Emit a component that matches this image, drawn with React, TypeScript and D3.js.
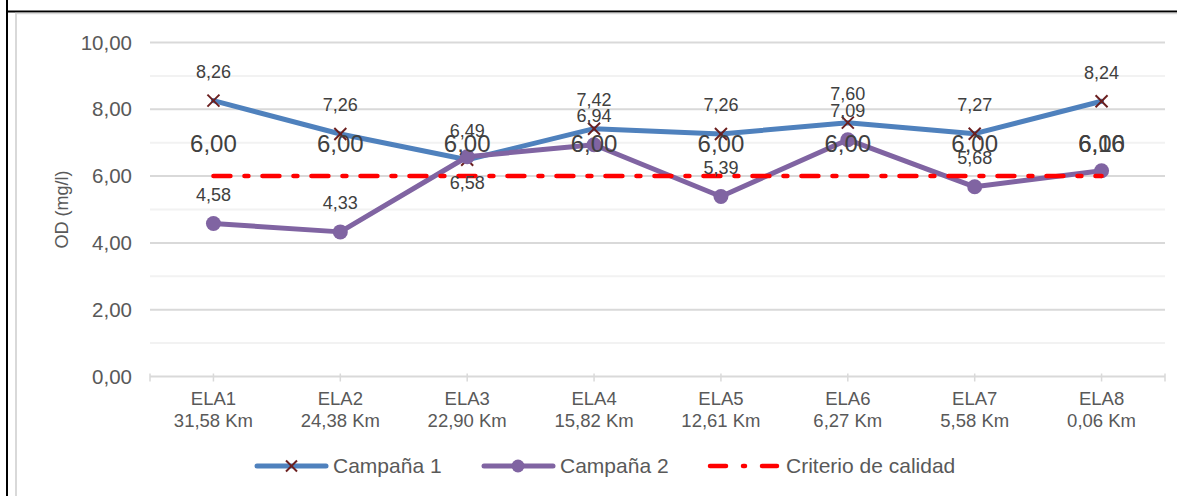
import React from "react";
import * as d3 from "d3";

const categories = ["ELA1", "ELA2", "ELA3", "ELA4", "ELA5", "ELA6", "ELA7", "ELA8"];
const distances = ["31,58 Km", "24,38 Km", "22,90 Km", "15,82 Km", "12,61 Km", "6,27 Km", "5,58 Km", "0,06 Km"];
const campana1 = [8.26, 7.26, 6.49, 7.42, 7.26, 7.6, 7.27, 8.24];
const campana2 = [4.58, 4.33, 6.58, 6.94, 5.39, 7.09, 5.68, 6.16];
const criterio = [6, 6, 6, 6, 6, 6, 6, 6];
const yTicks = [0, 2, 4, 6, 8, 10];
const yMinor = [1, 3, 5, 7, 9];
const c2LabelBelow = [false, false, true, false, false, false, false, false];

const W = 1177;
const H = 496;
const fmt = (v: number) => v.toFixed(2).replace(".", ",");
const FONT = "'Liberation Sans', Arial, sans-serif";

export default function App() {
  const x = d3.scaleBand<string>().domain(categories).range([150, 1165]);
  const cx = (c: string) => (x(c) as number) + x.bandwidth() / 2;
  const y = d3.scaleLinear().domain([0, 10]).range([376.5, 42.5]);

  const line = d3
    .line<number>()
    .x((_, i) => cx(categories[i]))
    .y((d) => y(d));

  const blue = "#4F81BD";
  const purple = "#8064A2";
  const maroon = "#6B1F1F";
  const red = "#FF0000";
  const gridMajor = "#D9D9D9";
  const gridMinor = "#F2F2F2";
  const textCol = "#595959";
  const labelCol = "#404040";

  const xMark = (px: number, py: number, k: string, s = 6) => (
    <g key={k} stroke={maroon} strokeWidth={2}>
      <line x1={px - s} y1={py - s} x2={px + s} y2={py + s} />
      <line x1={px - s} y1={py + s} x2={px + s} y2={py - s} />
    </g>
  );

  const axisY = y(0);
  const tickXs = [150, ...categories.map(cx), 1165];

  return (
    <div style={{ position: "fixed", left: 0, top: 0 }}>
      <svg width={W} height={H} style={{ display: "block", fontFamily: FONT }}>
        <rect x={0} y={0} width={W} height={H} fill="#fff" />
        {/* frame */}
        <line x1={7} y1={0} x2={7} y2={H} stroke="#000" strokeWidth={2} />
        <line x1={6} y1={11.5} x2={W} y2={11.5} stroke="#000" strokeWidth={2} />
        <line x1={16} y1={13} x2={16} y2={H} stroke={gridMajor} strokeWidth={2} />
        <line x1={15} y1={13.5} x2={W} y2={13.5} stroke={gridMajor} strokeWidth={1.5} />

        {/* minor gridlines */}
        {yMinor.map((v) => (
          <line key={"mn" + v} x1={150} x2={1165} y1={y(v)} y2={y(v)} stroke={gridMinor} strokeWidth={2} />
        ))}
        {/* major gridlines */}
        {yTicks.map((v) => (
          <line key={"mj" + v} x1={150} x2={1165} y1={y(v)} y2={y(v)} stroke={gridMajor} strokeWidth={2} />
        ))}
        {/* x ticks */}
        {tickXs.map((tx, i) => (
          <line key={"xt" + i} x1={tx} x2={tx} y1={axisY - 3} y2={axisY + 5} stroke={gridMajor} strokeWidth={1.5} />
        ))}
        {/* y tick labels */}
        {yTicks.map((v) => (
          <text key={"yl" + v} x={132} y={y(v)} dy="0.35em" textAnchor="end" fontSize={20.5} fill={textCol}>
            {fmt(v)}
          </text>
        ))}
        {/* y axis title */}
        <text
          transform={`translate(62,${(y(0) + y(10)) / 2}) rotate(-90)`}
          textAnchor="middle"
          dy="0.35em"
          fontSize={18}
          fill={textCol}
        >
          OD (mg/l)
        </text>
        {/* category labels */}
        {categories.map((c, i) => (
          <g key={"cl" + c}>
            <text x={cx(c)} y={399} dy="0.35em" textAnchor="middle" fontSize={18.5} fill={textCol}>
              {c}
            </text>
            <text x={cx(c)} y={421} dy="0.35em" textAnchor="middle" fontSize={18.5} fill={textCol}>
              {distances[i]}
            </text>
          </g>
        ))}

        {/* Campaña 1 */}
        <path d={line(campana1) as string} fill="none" stroke={blue} strokeWidth={5} strokeLinejoin="round" strokeLinecap="round" />
        {campana1.map((v, i) => xMark(cx(categories[i]), y(v), "m1" + i))}

        {/* Campaña 2 */}
        <path d={line(campana2) as string} fill="none" stroke={purple} strokeWidth={5} strokeLinejoin="round" strokeLinecap="round" />
        {campana2.map((v, i) => (
          <circle key={"m2" + i} cx={cx(categories[i])} cy={y(v)} r={7.5} fill={purple} />
        ))}

        {/* Criterio */}
        <path
          d={line(criterio) as string}
          fill="none"
          stroke={red}
          strokeWidth={4.5}
          strokeDasharray="17 14 4 14"
          strokeLinecap="round"
        />

        {/* labels */}
        {campana1.map((v, i) => (
          <text key={"l1" + i} x={cx(categories[i])} y={y(v) - 29} dy="0.35em" textAnchor="middle" fontSize={18} fill={labelCol}>
            {fmt(v)}
          </text>
        ))}
        {campana2.map((v, i) =>
          i === 7 ? null : (
            <text
              key={"l2" + i}
              x={cx(categories[i])}
              y={c2LabelBelow[i] ? y(v) + 26 : y(v) - 29}
              dy="0.35em"
              textAnchor="middle"
              fontSize={18}
              fill={labelCol}
            >
              {fmt(v)}
            </text>
          )
        )}
        {criterio.map((v, i) => (
          <text key={"l3" + i} x={cx(categories[i])} y={y(v) - 33} dy="0.35em" textAnchor="middle" fontSize={24} fill={labelCol}>
            {fmt(v)}
          </text>
        ))}
        <text x={cx(categories[7])} y={y(criterio[7]) - 33} dy="0.35em" textAnchor="middle" fontSize={24} fill={labelCol}>
          {fmt(campana2[7])}
        </text>

        {/* legend */}
        <g>
          <line x1={257} x2={326} y1={466} y2={466} stroke={blue} strokeWidth={5} strokeLinecap="round" />
          {xMark(291.5, 466, "lg1", 5.5)}
          <text x={333} y={466} dy="0.35em" fontSize={21} fill={textCol}>
            Campaña 1
          </text>
          <line x1={484} x2={553} y1={466} y2={466} stroke={purple} strokeWidth={5} strokeLinecap="round" />
          <circle cx={518} cy={466} r={6.5} fill={purple} />
          <text x={560} y={466} dy="0.35em" fontSize={21} fill={textCol}>
            Campaña 2
          </text>
          <line x1={710} x2={726} y1={466} y2={466} stroke={red} strokeWidth={4.5} strokeLinecap="round" />
          <line x1={743} x2={745} y1={466} y2={466} stroke={red} strokeWidth={4.5} strokeLinecap="round" />
          <line x1={762} x2={777} y1={466} y2={466} stroke={red} strokeWidth={4.5} strokeLinecap="round" />
          <text x={786} y={466} dy="0.35em" fontSize={21} fill={textCol}>
            Criterio de calidad
          </text>
        </g>
      </svg>
    </div>
  );
}
